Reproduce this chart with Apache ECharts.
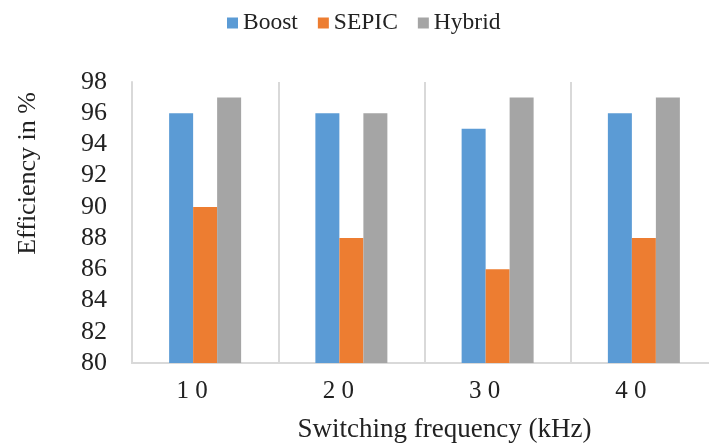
<!DOCTYPE html>
<html>
<head>
<meta charset="utf-8">
<script src="https://cdn.jsdelivr.net/npm/echarts@6/dist/echarts.min.js"></script>
<style>html,body{margin:0;padding:0;background:#fff;}#c{width:709px;height:444px;}</style>
</head>
<body>
<div id="c"></div>
<script>
var categories = ['10', '20', '30', '40'];
var boost = [96, 96, 95, 96];
var sepic = [90, 88, 86, 88];
var hybrid = [97, 96, 97, 97];
var yTicks = { min: 80, max: 98, interval: 2 };

var font = '"Liberation Serif", "Times New Roman", serif';
var chart = echarts.init(document.getElementById('c'));
chart.setOption({
  animation: false,
  textStyle: { fontFamily: font },
  legend: {
    top: 6, left: 222,
    itemWidth: 11, itemHeight: 11, itemGap: 20,
    icon: 'rect',
    textStyle: { fontFamily: font, fontSize: 23.5, color: '#222' },
    data: ['Boost', 'SEPIC', 'Hybrid']
  },
  grid: { left: 132, width: 585, top: 82, height: 281, containLabel: false, outerBoundsMode: 'none' },
  xAxis: {
    type: 'category',
    data: categories,
    axisLine: { lineStyle: { color: '#d9d9d9', width: 2 } },
    axisTick: { show: false },
    splitLine: { show: true, lineStyle: { color: '#d9d9d9', width: 2 } },
    axisLabel: {
      margin: 16, fontSize: 25, color: '#222', fontFamily: font,
      padding: [0, 26, 0, 0],
      formatter: function (v) { return v.split('').join(' '); }
    },
    name: 'Switching frequency (kHz)',
    nameLocation: 'middle',
    nameGap: 53,
    nameTextStyle: { fontSize: 27, color: '#222', fontFamily: font, padding: [0, 0, 0, 40] }
  },
  yAxis: {
    type: 'value',
    min: yTicks.min, max: yTicks.max, interval: yTicks.interval,
    axisLine: { show: true, lineStyle: { color: '#d9d9d9', width: 2 } },
    axisTick: { show: false },
    splitLine: { show: false },
    axisLabel: { margin: 25, fontSize: 26, color: '#222', fontFamily: font },
    name: 'Efficiency in %',
    nameLocation: 'middle',
    nameGap: 91,
    nameTextStyle: { fontSize: 26, color: '#222', fontFamily: font, padding: [0, 0, 0, 98] }
  },
  series: [
    { name: 'Boost', type: 'bar', data: boost, barWidth: 24, barGap: '0%', itemStyle: { color: '#5b9bd5' } },
    { name: 'SEPIC', type: 'bar', data: sepic, barWidth: 24, barGap: '0%', itemStyle: { color: '#ed7d31' } },
    { name: 'Hybrid', type: 'bar', data: hybrid, barWidth: 24, barGap: '0%', itemStyle: { color: '#a5a5a5' } }
  ]
});
</script>
</body>
</html>
